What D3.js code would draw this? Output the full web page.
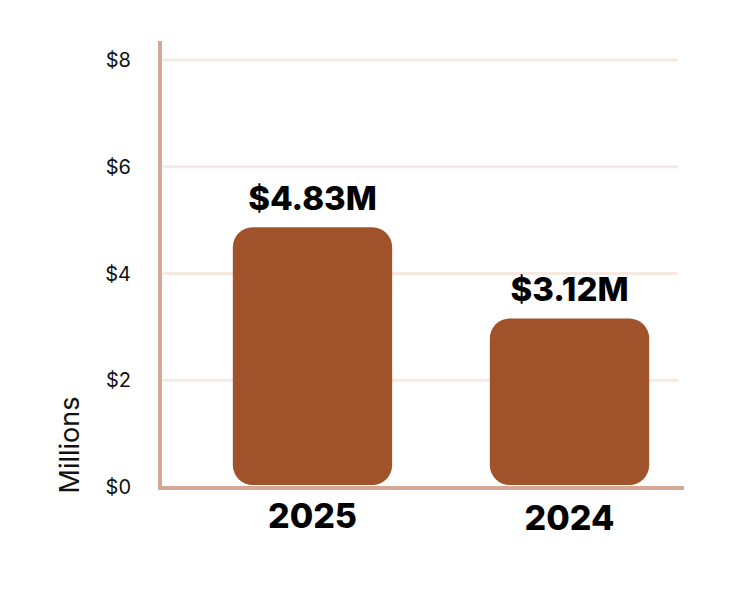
<!DOCTYPE html>
<html>
<head>
<meta charset="utf-8">
<script src="https://cdn.jsdelivr.net/npm/d3@7"></script>
<style>
  body { margin: 0; background: #fff; }
  svg { display: block; }
</style>
</head>
<body>
<div id="chart"></div>
<script>
var years = ["2025", "2024"];
var revenue = [4.83, 3.12];
var valueLabels = ["$4.83M", "$3.12M"];
var tickValues = [0, 2, 4, 6, 8];

var w = 750, h = 600;
var barColor = "#a0532a", axisColor = "#d3a995", gridColor = "#f5e9e2";

var svg = d3.select("#chart").append("svg").attr("width", w).attr("height", h);

var y = d3.scaleLinear().domain([0, 8]).range([485, 58]);
var x = d3.scaleBand().domain(years).range([184, 698]).paddingInner(0.38).paddingOuter(0.19);

// gridlines
svg.selectAll(".grid").data(tickValues.slice(1)).enter().append("line")
  .attr("x1", 163).attr("x2", 678)
  .attr("y1", function(d){ return y(d) + 2; })
  .attr("y2", function(d){ return y(d) + 2; })
  .style("stroke", gridColor).style("stroke-width", 3);

// tick labels
svg.selectAll(".tick").data(tickValues).enter().append("text")
  .attr("x", 131)
  .attr("y", function(d){ return y(d) + 2; })
  .attr("dy", "0.35em")
  .attr("text-anchor", "end")
  .style("font-family", "Inter, 'Open Sans', sans-serif")
  .style("font-size", "20px")
  .style("fill", "#111")
  .text(function(d){ return "$" + d; });

// bars
svg.selectAll(".bar").data(revenue).enter().append("rect")
  .attr("x", function(d, i){ return x(years[i]); })
  .attr("width", x.bandwidth())
  .attr("y", function(d){ return y(d); })
  .attr("height", function(d){ return y(0) - y(d); })
  .attr("rx", 20).attr("ry", 20)
  .style("fill", barColor);

// axes lines
svg.append("line").attr("x1", 160).attr("x2", 160).attr("y1", 41).attr("y2", 490)
  .style("stroke", axisColor).style("stroke-width", 4);
svg.append("line").attr("x1", 158).attr("x2", 684).attr("y1", 488).attr("y2", 488)
  .style("stroke", axisColor).style("stroke-width", 4);

// value labels
svg.selectAll(".val").data(revenue).enter().append("text")
  .attr("x", function(d, i){ return x(years[i]) + x.bandwidth()/2; })
  .attr("y", function(d){ return y(d) - 17; })
  .attr("text-anchor", "middle")
  .style("font-family", "Inter, sans-serif")
  .style("font-weight", 800)
  .style("font-size", "33px")
  .style("fill", "#000")
  .text(function(d, i){ return valueLabels[i]; });

// category labels
svg.selectAll(".cat").data(years).enter().append("text")
  .attr("x", function(d){ return x(d) + x.bandwidth()/2; })
  .attr("y", function(d, i){ return 528 + i * 2; })
  .attr("text-anchor", "middle")
  .style("font-family", "Inter, sans-serif")
  .style("font-weight", 800)
  .style("font-size", "34px")
  .style("fill", "#000")
  .text(function(d){ return d; });

// y title
svg.append("text")
  .attr("transform", "translate(79,445) rotate(-90)")
  .attr("text-anchor", "middle")
  .style("font-family", "Inter, sans-serif")
  .style("font-size", "27px")
  .style("fill", "#111")
  .text("Millions");
</script>
</body>
</html>
